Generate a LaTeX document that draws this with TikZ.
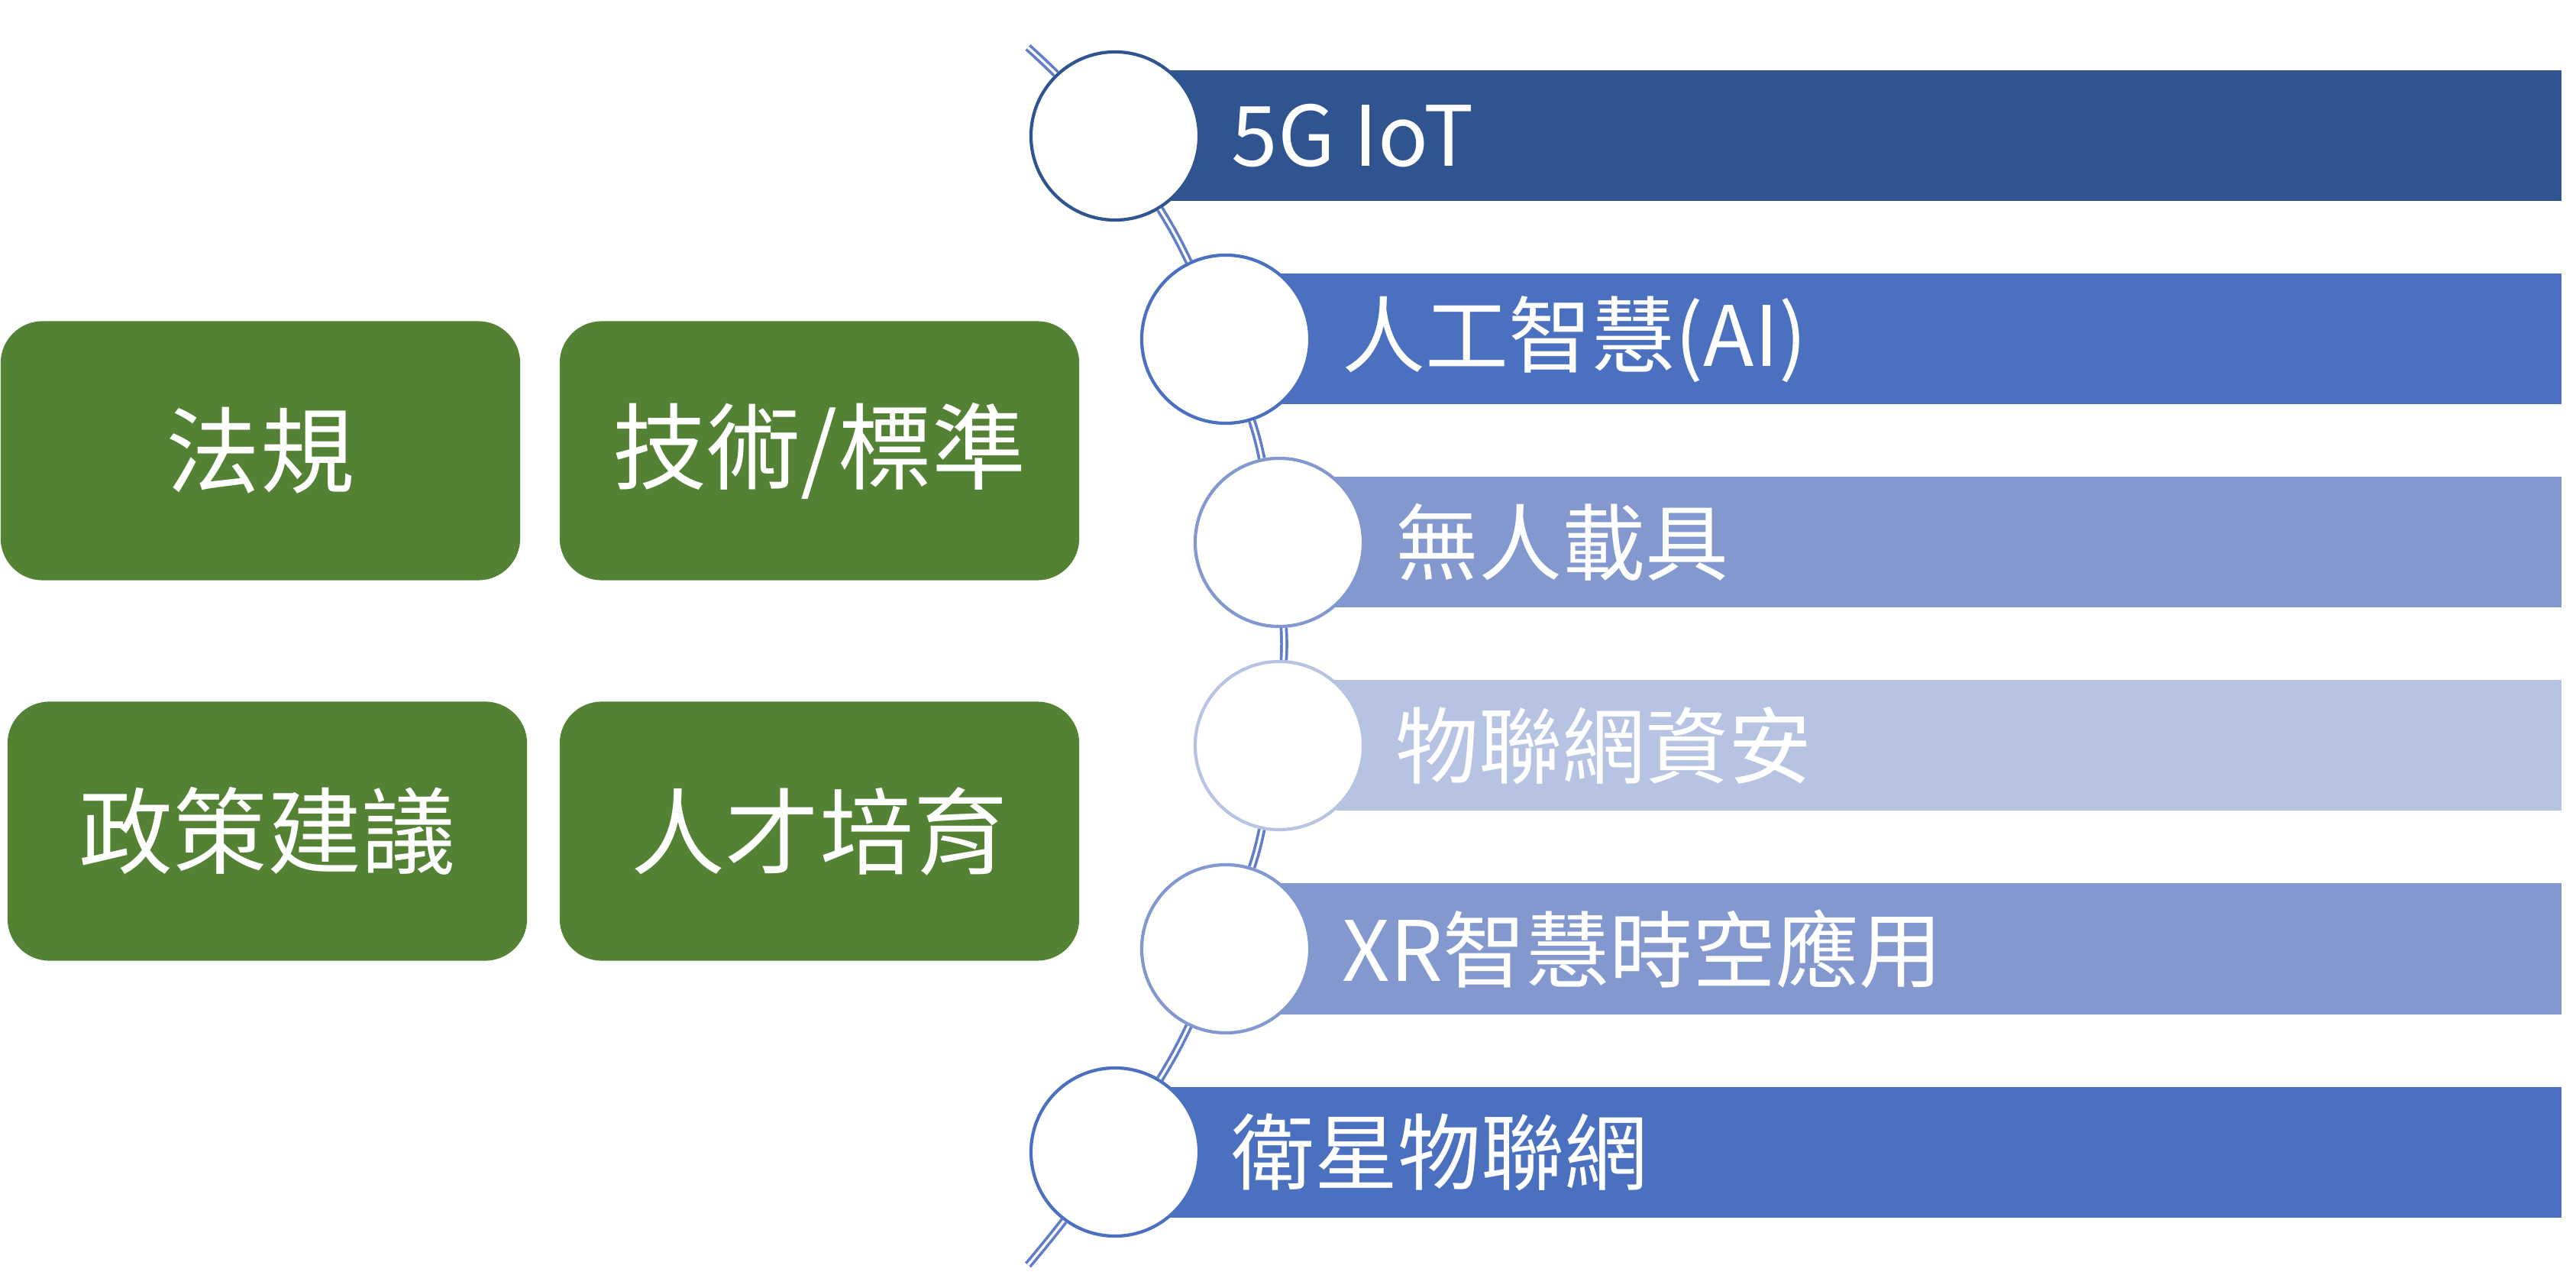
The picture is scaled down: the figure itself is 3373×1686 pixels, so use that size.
\documentclass[tikz,border=0pt]{standalone}
\usepackage{fontspec}
\setmainfont{Noto Sans CJK TC}
\usetikzlibrary{positioning}

\definecolor{barA}{RGB}{47,84,143}
\definecolor{barB}{RGB}{74,112,191}
\definecolor{barC}{RGB}{130,152,207}
\definecolor{barD}{RGB}{183,195,226}
\definecolor{boxgreen}{RGB}{84,130,53}
\definecolor{linkblue}{RGB}{98,126,200}

\tikzset{
  greenbox/.style={fill=boxgreen, rounded corners=0.55cm, minimum width=6.8cm,
    minimum height=3.39cm, inner sep=0pt, text=white,
    font=\fontsize{35}{42}\selectfont},
  dot/.style={circle, draw=#1, fill=white, line width=1.2pt,
    minimum size=2.2cm, inner sep=0pt},
  bartext/.style={text=white, inner sep=0pt, font=\fontsize{31}{37}\selectfont},
  link/.style={draw=linkblue, double=white, line width=1.05pt, double distance=0.9pt}
}

\begin{document}
\begin{tikzpicture}[x=0.01cm,y=-0.01cm]

  % Page size of the reference (in pixels)
  \useasboundingbox (0,0) rectangle (3373,1686);

  % Left side: four green topic boxes
  \node[greenbox] (law)    at (341,590)  {法規};
  \node[greenbox] (tech)   at (1073,590) {技術/標準};
  \node[greenbox] (policy) at (350,1088) {政策建議};
  \node[greenbox] (talent) at (1073,1088) {人才培育};

  % Right side: bars behind the circles
  \foreach \y/\cx/\col in {178/1460/barA, 444/1605/barB, 710/1675/barC,
                           976/1675/barD, 1242/1605/barC, 1508/1460/barB}
    \fill[\col] (\cx+70,\y-85.5) rectangle (3354,\y+85.5);

  % Circles on the arc
  \foreach \y/\cx/\col/\n in {178/1460/barA/1, 444/1605/barB/2, 710/1675/barC/3,
                              976/1675/barD/4, 1242/1605/barC/5, 1508/1460/barB/6}
    \node[dot=\col] (c\n) at (\cx,\y) {};

  % Free ends of the arc
  \coordinate (top) at (1346,62);
  \coordinate (bottom) at (1346,1656);

  % Double line joining the circles
  \draw[link] (top) to[bend left=1] (c1);
  \foreach \a/\b in {1/2, 2/3, 3/4, 4/5, 5/6}
    \draw[link] (c\a) to[bend left=3] (c\b);
  \draw[link] (c6) to[bend left=1] (bottom);

  % Bar labels
  \node[bartext, right=0.4cm of c1] (t1) {5G IoT};
  \node[bartext, right=0.4cm of c2] (t2) {人工智慧(AI)};
  \node[bartext, right=0.4cm of c3] (t3) {無人載具};
  \node[bartext, right=0.4cm of c4] (t4) {物聯網資安};
  \node[bartext, right=0.4cm of c5] (t5) {XR智慧時空應用};
  \node[bartext, right=0.4cm of c6] (t6) {衛星物聯網};

\end{tikzpicture}
\end{document}
